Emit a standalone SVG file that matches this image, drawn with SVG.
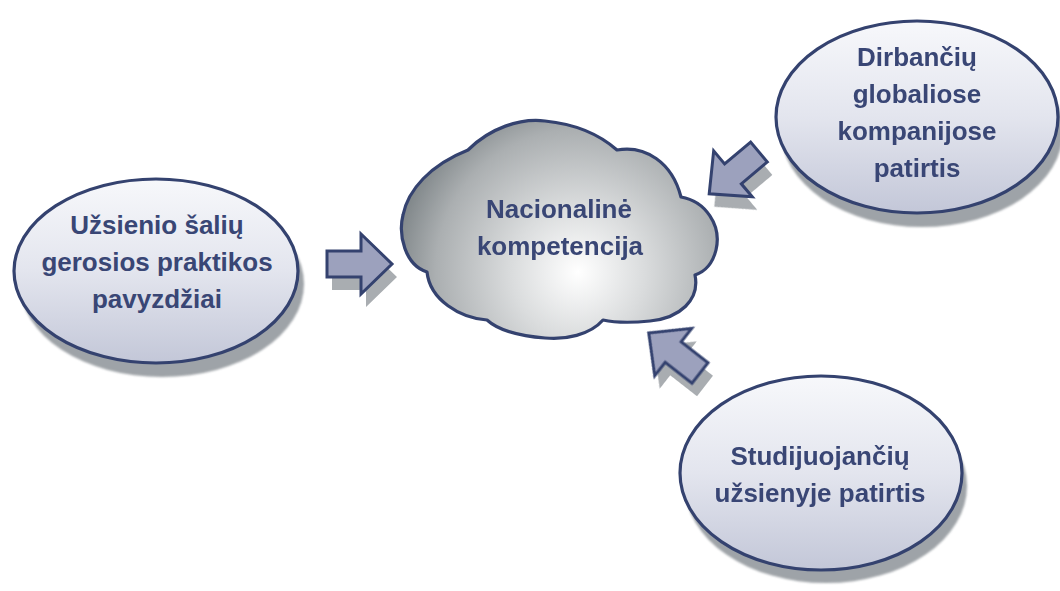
<svg xmlns="http://www.w3.org/2000/svg" width="1060" height="591" viewBox="0 0 1060 591">
<defs>
<linearGradient id="ellGrad" x1="0" y1="0" x2="0" y2="1">
<stop offset="0" stop-color="#f7f8fb"/>
<stop offset="0.5" stop-color="#e3e5ee"/>
<stop offset="1" stop-color="#c3c7d8"/>
</linearGradient>
<radialGradient id="cloudGrad" gradientUnits="userSpaceOnUse" cx="578" cy="272" r="190" fx="578" fy="272">
<stop offset="0" stop-color="#ffffff"/>
<stop offset="0.35" stop-color="#dadcdd"/>
<stop offset="0.75" stop-color="#abafb1"/>
<stop offset="1" stop-color="#7a8184"/>
</radialGradient>
<filter id="blur" x="-10%" y="-10%" width="120%" height="120%">
<feGaussianBlur stdDeviation="1"/>
</filter>
<path id="arrowShape" d="M0,-13 L34,-13 L34,-30 L65,0 L34,30 L34,13 L0,13 Z"/>
</defs>
<style>
.ell{fill:url(#ellGrad);stroke:#34426f;stroke-width:3.2}
.shadow{fill:#949a9f;opacity:0.9;filter:url(#blur)}
.arrow{fill:#9ca1bd;stroke:#34426f;stroke-width:3;stroke-linejoin:miter}
.ashadow{fill:#9a9fa3;opacity:0.85}
.cloud{fill:url(#cloudGrad);stroke:#34426f;stroke-width:3.2;stroke-linejoin:round}
.lbl{font-family:"Liberation Sans",Arial,sans-serif;font-weight:bold;font-size:26px;fill:#394675;text-anchor:middle}
</style>

<g id="connectors">
<g transform="translate(5,13)" class="ashadow">
<use href="#arrowShape" transform="translate(327,264)"/>
<use href="#arrowShape" transform="translate(759,152) rotate(140)"/>
<use href="#arrowShape" transform="translate(700,373) rotate(-142)"/>
</g>
<use id="arrow-left" class="arrow" href="#arrowShape" transform="translate(327,264)"/>
<use id="arrow-topright" class="arrow" href="#arrowShape" transform="translate(759,152) rotate(140)"/>
<use id="arrow-bottomright" class="arrow" href="#arrowShape" transform="translate(700,373) rotate(-142)"/>
</g>

<g id="node-center">
<path class="cloud" d="M468,150 C490,128 520,118 545,121 C575,124 600,135 617,150 C645,145 672,162 681,197 C705,201 722,225 716,250 C712,266 704,272 695,275 C700,300 680,318 650,321 C630,323 612,322 603,320 C590,335 565,340 545,338 C520,336 498,330 487,320 C460,318 430,300 427,272 C405,265 398,235 403,215 C408,190 430,165 468,150 Z"/>
<text class="lbl" x="559" y="218">Nacionalinė</text>
<text class="lbl" x="560" y="255">kompetencija</text>
</g>

<g id="node-left">
<ellipse class="shadow" cx="162" cy="284" rx="142" ry="93"/>
<ellipse class="ell" cx="156" cy="271" rx="142" ry="92"/>
<text class="lbl" x="157" y="234">Užsienio šalių</text>
<text class="lbl" x="157" y="271">gerosios praktikos</text>
<text class="lbl" x="157" y="308">pavyzdžiai</text>
</g>

<g id="node-topright">
<ellipse class="shadow" cx="922" cy="131" rx="141" ry="96"/>
<ellipse class="ell" cx="917" cy="117" rx="141" ry="96"/>
<text class="lbl" x="917" y="66">Dirbančių</text>
<text class="lbl" x="917" y="103">globaliose</text>
<text class="lbl" x="917" y="140">kompanijose</text>
<text class="lbl" x="917" y="177">patirtis</text>
</g>

<g id="node-bottomright">
<ellipse class="shadow" cx="826" cy="486" rx="141" ry="97"/>
<ellipse class="ell" cx="821" cy="473" rx="141" ry="97"/>
<text class="lbl" x="820" y="465">Studijuojančių</text>
<text class="lbl" x="820" y="502">užsienyje patirtis</text>
</g>
</svg>
